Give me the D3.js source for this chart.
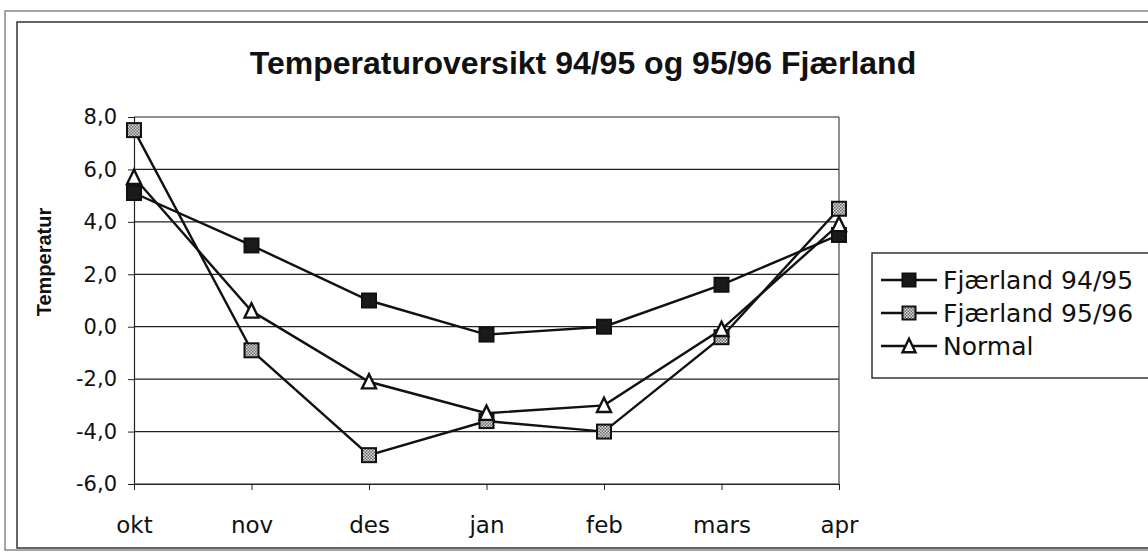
<!DOCTYPE html>
<html>
<head>
<meta charset="utf-8">
<script src="https://cdn.jsdelivr.net/npm/d3@7"></script>
<style>
  body { margin: 0; background: #fff; }
  svg { display: block; }
</style>
</head>
<body>
<div id="chart"></div>
<script>
'use strict';

var months = ['okt', 'nov', 'des', 'jan', 'feb', 'mars', 'apr'];
var fjaerland9495 = [5.1, 3.1, 1.0, -0.3, 0.0, 1.6, 3.5];
var fjaerland9596 = [7.5, -0.9, -4.9, -3.6, -4.0, -0.4, 4.5];
var normal = [5.7, 0.6, -2.1, -3.3, -3.0, -0.1, 3.9];
var yTicks = [-6, -4, -2, 0, 2, 4, 6, 8];
var seriesNames = ['Fjærland 94/95', 'Fjærland 95/96', 'Normal'];

var W = 1148, H = 553;
var plot = { left: 134, right: 839, top: 117, bottom: 484 };
var tickFont = '"DejaVu Sans", "Noto Sans", sans-serif';
var boldFont = '"Liberation Sans", Arial, sans-serif';

var svg = d3.select('#chart').append('svg')
    .attr('width', W)
    .attr('height', H);

// pattern for the grey checkered square
var defs = svg.append('defs');
var pat = defs.append('pattern')
    .attr('id', 'check')
    .attr('width', 3).attr('height', 3)
    .attr('patternUnits', 'userSpaceOnUse');
pat.append('rect').attr('width', 3).attr('height', 3).attr('fill', '#d8d8d8');
pat.append('rect').attr('width', 1.5).attr('height', 1.5).attr('fill', '#6a6a6a');
pat.append('rect').attr('x', 1.5).attr('y', 1.5).attr('width', 1.5).attr('height', 1.5).attr('fill', '#6a6a6a');

// frames
svg.append('rect')
    .attr('x', 5).attr('y', 11).attr('width', 1150).attr('height', 539)
    .attr('fill', 'none').attr('stroke', '#888').attr('stroke-width', 1.5);
svg.append('rect')
    .attr('x', 17).attr('y', 22).attr('width', 1140).attr('height', 526)
    .attr('fill', 'none').attr('stroke', '#333').attr('stroke-width', 1.5);

var x = d3.scalePoint()
    .domain(months)
    .range([plot.left, plot.right]);

var y = d3.scaleLinear()
    .domain([-6, 8])
    .range([plot.bottom, plot.top]);

// gridlines
svg.append('g')
    .selectAll('line')
    .data(yTicks)
    .enter().append('line')
    .attr('x1', plot.left).attr('x2', plot.right)
    .attr('y1', function(d) { return y(d); })
    .attr('y2', function(d) { return y(d); })
    .attr('stroke', '#222').attr('stroke-width', 1.2);

// right edge of plot area
svg.append('line')
    .attr('x1', plot.right).attr('x2', plot.right)
    .attr('y1', plot.top).attr('y2', plot.bottom)
    .attr('stroke', '#444').attr('stroke-width', 1.2);

// y axis
var yAxis = d3.axisLeft(y)
    .tickValues(yTicks)
    .tickSize(6)
    .tickPadding(11)
    .tickFormat(function(d) { return d3.format('.1f')(d).replace('.', ',').replace('−', '-'); });

var gy = svg.append('g')
    .attr('transform', 'translate(' + plot.left + ',0)')
    .call(yAxis);
gy.select('.domain').attr('stroke', '#222').attr('stroke-width', 1.2);
gy.selectAll('.tick line').attr('stroke', '#222');
gy.selectAll('.tick text')
    .attr('font-family', tickFont)
    .attr('font-size', 21)
    .attr('fill', '#111');

// x axis
var xAxis = d3.axisBottom(x)
    .tickSize(6)
    .tickPadding(27)
    .tickSizeOuter(0);

var gx = svg.append('g')
    .attr('transform', 'translate(0,' + plot.bottom + ')')
    .call(xAxis);
gx.select('.domain').attr('stroke', '#222').attr('stroke-width', 1.2);
gx.selectAll('.tick line').attr('stroke', '#222');
gx.selectAll('.tick text')
    .attr('font-family', tickFont)
    .attr('font-size', 23)
    .attr('fill', '#111');

// title
svg.append('text')
    .attr('x', 583).attr('y', 74)
    .attr('text-anchor', 'middle')
    .attr('font-family', boldFont)
    .attr('font-weight', 'bold')
    .attr('font-size', 32)
    .attr('fill', '#111')
    .text('Temperaturoversikt 94/95 og 95/96 Fjærland');

// y label
svg.append('text')
    .attr('transform', 'translate(51,262) rotate(-90)')
    .attr('text-anchor', 'middle')
    .attr('font-family', boldFont)
    .attr('font-weight', 'bold')
    .attr('font-size', 20)
    .attr('fill', '#111')
    .text('Temperatur');

var line = d3.line()
    .x(function(d, i) { return x(months[i]); })
    .y(function(d) { return y(d); });

var series = [
    { name: seriesNames[0], values: fjaerland9495, marker: 'square', fill: '#1a1a1a' },
    { name: seriesNames[1], values: fjaerland9596, marker: 'square', fill: 'url(#check)' },
    { name: seriesNames[2], values: normal, marker: 'triangle', fill: '#fff' }
];

function drawMarker(g, s, cx, cy, size) {
    if (s.marker == 'square') {
        g.append('rect')
            .attr('x', cx - size / 2).attr('y', cy - size / 2)
            .attr('width', size).attr('height', size)
            .attr('fill', s.fill)
            .attr('stroke', '#111').attr('stroke-width', 2);
    } else {
        var h = size * 0.95;
        g.append('path')
            .attr('d', 'M' + cx + ',' + (cy - h / 2 - 1) + 'L' + (cx + size / 2) + ',' + (cy + h / 2) + 'L' + (cx - size / 2) + ',' + (cy + h / 2) + 'Z')
            .attr('fill', s.fill)
            .attr('stroke', '#111').attr('stroke-width', 2.4);
    }
}

series.forEach(function(s) {
    svg.append('path')
        .datum(s.values)
        .attr('d', line)
        .attr('fill', 'none')
        .attr('stroke', '#111')
        .attr('stroke-width', 2.4);
});

series.forEach(function(s) {
    var g = svg.append('g');
    s.values.forEach(function(v, i) {
        drawMarker(g, s, x(months[i]), y(v), 14);
    });
});

// legend
var legend = svg.append('g');
legend.append('rect')
    .attr('x', 872).attr('y', 253).attr('width', 290).attr('height', 125)
    .attr('fill', '#fff').attr('stroke', '#333').attr('stroke-width', 1.5);

series.forEach(function(s, i) {
    var ly = 280 + i * 33;
    legend.append('line')
        .attr('x1', 881).attr('x2', 937)
        .attr('y1', ly).attr('y2', ly)
        .attr('stroke', '#111').attr('stroke-width', 2.4);
    drawMarker(legend, s, 909, ly, 13);
    legend.append('text')
        .attr('x', 943).attr('y', ly + 9)
        .attr('font-family', tickFont)
        .attr('font-size', 25)
        .attr('fill', '#111')
        .text(s.name);
});
</script>
</body>
</html>
